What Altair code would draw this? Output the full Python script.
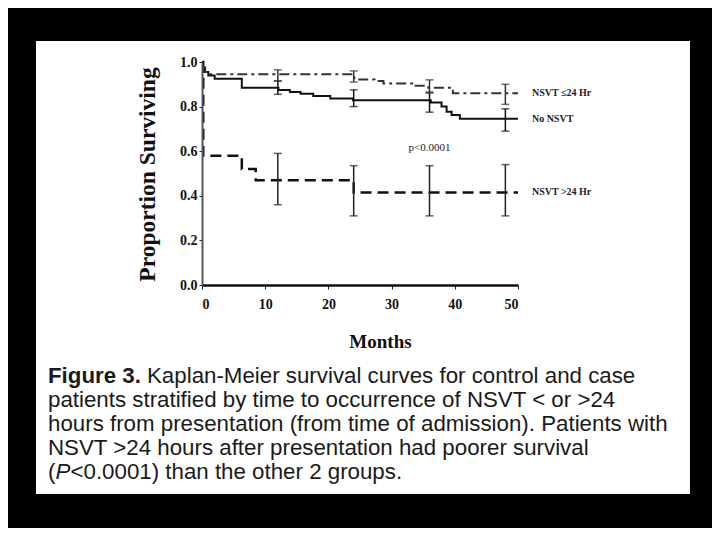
import altair as alt
import pandas as pd

# ---- data ----
no_nsvt_x = [0, 0.3, 1.0, 2.0, 6.3, 12.1, 13.9, 15.6, 17.6, 20.3, 23.9, 36.2, 37.9, 38.7, 39.5, 40.8, 50]
no_nsvt_y = [0.97, 0.955, 0.94, 0.925, 0.885, 0.875, 0.866, 0.858, 0.848, 0.836, 0.828, 0.818, 0.80, 0.777, 0.762, 0.745, 0.745]

early_x = [0, 0.5, 1.0, 24.1, 27.3, 28.7, 33.5, 35.8, 38.4, 39.7, 50]
early_y = [0.975, 0.955, 0.945, 0.922, 0.915, 0.904, 0.893, 0.885, 0.885, 0.86, 0.86]

late_x = [0, 0.2, 6.3, 8.5, 24.0, 50]
late_y = [1.0, 0.58, 0.52, 0.47, 0.415, 0.415]

bar_months = [12, 24, 36, 48]
early_lo = [0.915, 0.91, 0.86, 0.81]
early_hi = [0.965, 0.96, 0.92, 0.90]
no_lo = [0.855, 0.80, 0.775, 0.69]
no_hi = [0.915, 0.875, 0.865, 0.79]
late_lo = [0.36, 0.31, 0.31, 0.31]
late_hi = [0.59, 0.535, 0.535, 0.54]

series_labels = ["NSVT \u226424 Hr", "No NSVT", "NSVT >24 Hr"]
label_y = [0.862, 0.745, 0.418]

caption_lines = [
    "patients stratified by time to occurrence of NSVT < or >24",
    "hours from presentation (from time of admission). Patients with",
    "NSVT >24 hours after presentation had poorer survival",
]
caption_last = ["(", "P", "<0.0001) than the other 2 groups."]

SERIF = "Liberation Serif"
SANS = "Liberation Sans"
CAP = 22.3

xs = alt.Scale(domain=[0, 50], nice=False)
ys = alt.Scale(domain=[0, 1], nice=False)

df_no = pd.DataFrame({"m": no_nsvt_x, "s": no_nsvt_y})
df_early = pd.DataFrame({"m": early_x, "s": early_y})
df_late = pd.DataFrame({"m": late_x, "s": late_y})

W, H = 316, 223

panel = alt.Chart(pd.DataFrame({"a": [0]})).mark_rect(color="white").encode(
    x=alt.value(-166), x2=alt.value(488), y=alt.value(-21), y2=alt.value(432)
)

xaxis = alt.Axis(values=[0, 10, 20, 30, 40, 50], format="d", grid=False, tickSize=4, zindex=2,
                 tickColor="#222", domainColor="#111", domainWidth=2.5,
                 labelFont=SERIF, labelFontSize=14, labelFontWeight="bold", labelColor="#111",
                 labelPadding=8, title="Months", titleFont=SERIF, titleFontSize=19,
                 titleFontWeight="bold", titleColor="#111", titleX=178, titleY=62,
                 titleBaseline="alphabetic")
yaxis = alt.Axis(values=[0, 0.2, 0.4, 0.6, 0.8, 1.0], format=".1f", grid=False, tickSize=3, zindex=2,
                 tickColor="#222", domainColor="#555", domainWidth=2,
                 labelFont=SERIF, labelFontSize=14, labelFontWeight="bold", labelColor="#111",
                 labelPadding=2, title="Proportion Surviving", titleFont=SERIF, titleFontSize=23.5,
                 titleFontWeight="bold", titleColor="#111", titleX=-55, titleY=112,
                 titleAlign="center", titleBaseline="middle", titleAngle=270)

base_line = alt.Chart(df_no).mark_line(interpolate="step-after", color="#111", strokeWidth=2).encode(
    x=alt.X("m:Q", scale=xs, axis=xaxis),
    y=alt.Y("s:Q", scale=ys, axis=yaxis),
)
early_line = alt.Chart(df_early).mark_line(interpolate="step-after", color="#333", strokeWidth=2,
                                           strokeDash=[10, 4, 3, 4]).encode(
    x=alt.X("m:Q", scale=xs), y=alt.Y("s:Q", scale=ys))
late_line = alt.Chart(df_late).mark_line(interpolate="step-after", color="#111", strokeWidth=2.5,
                                         strokeDash=[11, 6]).encode(
    x=alt.X("m:Q", scale=xs), y=alt.Y("s:Q", scale=ys))

def bars(lo, hi, color):
    d = pd.DataFrame({"m": bar_months, "lo": lo, "hi": hi})
    rule = alt.Chart(d).mark_rule(color=color, strokeWidth=1.5).encode(
        x=alt.X("m:Q", scale=xs), y=alt.Y("lo:Q", scale=ys), y2="hi:Q")
    cap_lo = alt.Chart(d).mark_tick(color=color, orient="horizontal", size=8, thickness=1.5).encode(
        x=alt.X("m:Q", scale=xs), y=alt.Y("lo:Q", scale=ys))
    cap_hi = alt.Chart(d).mark_tick(color=color, orient="horizontal", size=8, thickness=1.5).encode(
        x=alt.X("m:Q", scale=xs), y=alt.Y("hi:Q", scale=ys))
    return [rule, cap_lo, cap_hi]

labels_df = pd.DataFrame({"t": series_labels, "s": label_y, "m": [52.2, 52.2, 52.2]})
labels = alt.Chart(labels_df).mark_text(align="left", baseline="middle", font=SERIF,
                                        fontSize=10, fontWeight="bold", color="#222").encode(
    x=alt.X("m:Q", scale=xs), y=alt.Y("s:Q", scale=ys), text="t:N")

pval = alt.Chart(pd.DataFrame({"t": ["p<0.0001"], "m": [36.0], "s": [0.614]})).mark_text(
    font=SERIF, fontSize=11, color="#222", baseline="middle").encode(
    x=alt.X("m:Q", scale=xs), y=alt.Y("s:Q", scale=ys), text="t:N")

def ctext(t, x, y, **kw):
    return alt.Chart(pd.DataFrame({"t": [t]})).mark_text(
        align="left", baseline="alphabetic", font=SANS, fontSize=CAP, color="#1a1a1a", **kw
    ).encode(x=alt.value(x), y=alt.value(y), text="t:N")

X0 = -154
Y0 = 321
cap_layers = [
    ctext("Figure 3.", X0, Y0, fontWeight="bold"),
    ctext("Kaplan-Meier survival curves for control and case", X0 + 99, Y0),
]
for i, line in enumerate(caption_lines):
    cap_layers.append(ctext(line, X0, Y0 + 24 * (i + 1)))
yl = Y0 + 24 * 4
cap_layers += [
    ctext(caption_last[0], X0, yl),
    ctext(caption_last[1], X0 + 7.5, yl, fontStyle="italic"),
    ctext(caption_last[2], X0 + 22.5, yl),
]

layers = [panel, base_line, early_line, late_line]
layers += bars(no_lo, no_hi, "#111")
layers += bars(early_lo, early_hi, "#333")
layers += bars(late_lo, late_hi, "#222")
layers += [labels, pval] + cap_layers

chart = alt.layer(*layers).properties(
    width=W, height=H, background="black",
    padding={"left": 194, "top": 54, "right": 194, "bottom": 243},
    autosize=alt.AutoSizeParams(type="none"),
).configure_view(stroke=None)

chart.save("out.html", embed_options={"renderer": "svg", "actions": False})
